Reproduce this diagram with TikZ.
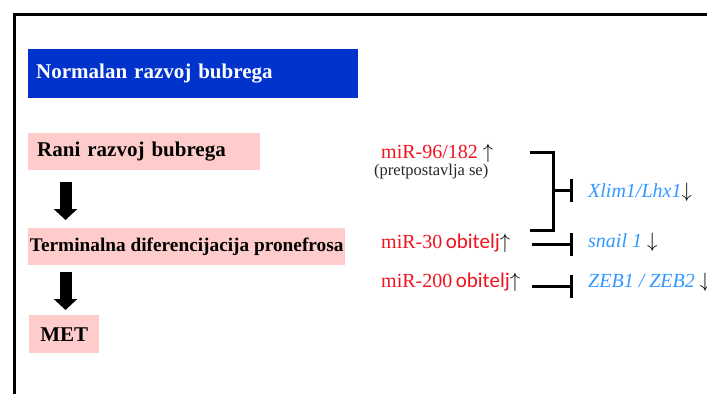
\documentclass[tikz,border=0pt]{standalone}
\usepackage{fontspec}
\setmainfont{Liberation Serif}
\newfontfamily\calib{Carlito}
\usetikzlibrary{arrows.meta,calc}
\definecolor{boxblue}{RGB}{0,51,204}
\definecolor{boxpink}{RGB}{255,204,204}
\definecolor{mirred}{RGB}{240,20,30}
\definecolor{geneblue}{RGB}{51,153,255}
\tikzset{
  bluebox/.style={fill=boxblue, text=white, font=\fontsize{21}{25}\selectfont\bfseries, anchor=north west, inner xsep=8pt, inner ysep=0pt, align=left},
  pinkbox/.style={fill=boxpink, text=black, font=\fontsize{21}{25}\selectfont\bfseries, anchor=north west, inner ysep=0pt},
  bigarrow/.style={line width=12pt, -{Triangle[width=23pt,length=11pt]}},
  mir/.style={text=mirred, font=\fontsize{20}{24}\selectfont, anchor=base west, inner sep=0pt},
  gene/.style={text=geneblue, font=\fontsize{20}{24}\selectfont\itshape, anchor=base west, inner sep=0pt},
  inhib/.style={line width=3pt, -{Bar[width=23pt,line width=3pt]}},
  brk/.style={line width=3pt}
}
\begin{document}
\begin{tikzpicture}[x=1pt,y=-1pt]
\useasboundingbox (0,0) rectangle (707,394);
\fill[white] (0,0) rectangle (707,394);
% frame
\draw[line width=3pt] (14,394) -- (14,14.5) -- (707,14.5);
% left column
\node[bluebox, minimum width=330pt, minimum height=49pt, text width=314pt] (title) at (28,49) {Normalan razvoj bubrega};
\node[pinkbox, minimum width=232pt, minimum height=37pt, text width=214pt, inner xsep=9pt, align=left] (rani) at (28,133) {Rani razvoj bubrega};
\node[pinkbox, minimum width=317pt, minimum height=37pt, inner xsep=0pt, font=\fontsize{19.3}{22}\selectfont\bfseries] (term) at (28,228) {Terminalna diferencijacija pronefrosa};
\node[pinkbox, minimum width=70pt, minimum height=38pt, inner xsep=0pt] (met) at (29,315) {MET};
\draw[bigarrow] ([xshift=37.5pt,yshift=-12pt]rani.south west) -- ([xshift=37.5pt,yshift=8pt]term.north west);
\draw[bigarrow] ([xshift=37.5pt,yshift=-7pt]term.south west) -- ([xshift=36.5pt,yshift=5pt]met.north west);
% right side: miRNAs
\node[mir] (m96) at (381,158) {miR-96/182 \textcolor{black}{$\uparrow$}};
\node[anchor=base west, inner sep=0pt, text=black!85, font=\fontsize{16.5}{20}\selectfont] (pret) at (374,175) {(pretpostavlja se)};
\node[mir] (m30) at (381,248) {miR-30{\calib\fontsize{21}{25}\selectfont\,obitelj}\textcolor{black}{$\uparrow$}};
\node[mir] (m200) at (381,287) {miR-200{\calib\fontsize{21}{25}\selectfont\,obitelj}\textcolor{black}{$\uparrow$}};
% genes
\node[gene] (xlim) at (588,197) {Xlim1/Lhx1\textcolor{black}{$\downarrow$}};
\node[gene] (snail) at (588,247) {snail 1 \textcolor{black}{$\downarrow$}};
\node[gene] (zeb) at (588,287) {ZEB1 / ZEB2 \textcolor{black}{$\downarrow$}};
% connectors
\coordinate (b1) at (530,152);
\coordinate (b2) at (530,230);
\coordinate (bm) at (553,190);
\draw[brk] (b1) -- (553,152) -- (553,230) -- (b2);
\draw[inhib] (bm) -- ([xshift=-15pt]xlim.west |- bm);
\draw[inhib] (532,244) -- (573,244);
\draw[inhib] (532,286) -- (573,286);
\end{tikzpicture}
\end{document}
